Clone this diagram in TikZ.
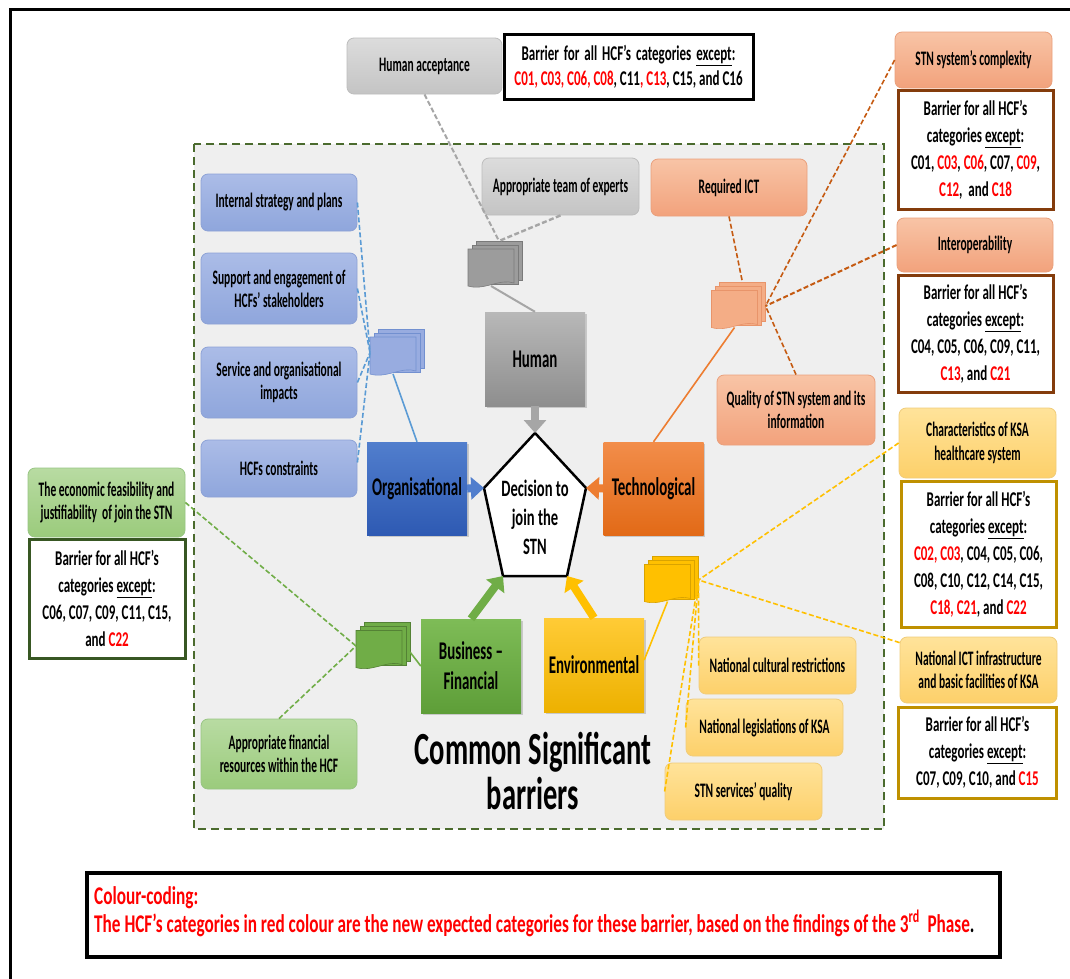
\documentclass[tikz,border=0pt]{standalone}
\usepackage{fontspec}
\setmainfont{Carlito}[FakeStretch=0.62]
\newfontfamily\fsmall{Carlito}[FakeStretch=0.557]
\newfontfamily\fcat{Carlito}[FakeStretch=0.584]
\newfontfamily\fcc{Carlito}[FakeStretch=0.675]
\usetikzlibrary{arrows.meta,calc,shadows}
\definecolor{graytop}{HTML}{DCDCDC}\definecolor{graybot}{HTML}{C4C4C4}\definecolor{grayedge}{HTML}{BDBDBD}
\definecolor{humtop}{HTML}{B8B8B8}\definecolor{humbot}{HTML}{8E8E8E}
\definecolor{bluetop}{HTML}{ABBCE7}\definecolor{bluebot}{HTML}{8FA6DC}\definecolor{blueedge}{HTML}{8DA2D6}
\definecolor{orgtop}{HTML}{517ECD}\definecolor{orgbot}{HTML}{2E5AB3}
\definecolor{ortop}{HTML}{F8C4A6}\definecolor{orbot}{HTML}{F2A27C}\definecolor{oredge}{HTML}{EAA07C}
\definecolor{techtop}{HTML}{F28D4A}\definecolor{techbot}{HTML}{E26A17}
\definecolor{yeltop}{HTML}{FFE39A}\definecolor{yelbot}{HTML}{FDD06A}\definecolor{yeledge}{HTML}{F0CC7A}
\definecolor{envtop}{HTML}{FFCB36}\definecolor{envbot}{HTML}{EDB100}
\definecolor{grtop}{HTML}{B8DBA2}\definecolor{grbot}{HTML}{9BCB7C}\definecolor{gredge}{HTML}{98C583}
\definecolor{bustop}{HTML}{7EBC57}\definecolor{busbot}{HTML}{5E9E38}
\definecolor{bgfill}{HTML}{EFEFEF}\definecolor{dashgreen}{HTML}{4B6B2E}
\definecolor{cgray}{HTML}{A6A6A6}\definecolor{cblue}{HTML}{5B9BD5}
\definecolor{corange}{HTML}{C55A11}\definecolor{corsolid}{HTML}{ED7D31}
\definecolor{cyellow}{HTML}{FFC000}\definecolor{cgreen}{HTML}{70AD47}
\definecolor{bbrown}{HTML}{843C0C}\definecolor{bgold}{HTML}{BF9000}\definecolor{bgreen}{HTML}{385723}
\definecolor{dgray}{HTML}{9C9C9C}\definecolor{dgrayd}{HTML}{7A7A7A}
\definecolor{dblue}{HTML}{98ACE0}\definecolor{dblued}{HTML}{7290D0}
\definecolor{dor}{HTML}{F4AD86}\definecolor{dord}{HTML}{E8946A}
\definecolor{dyel}{HTML}{FFC000}\definecolor{dyeld}{HTML}{D9A300}
\definecolor{dgr}{HTML}{70AD47}\definecolor{dgrd}{HTML}{548235}
\newcommand\redt[1]{\textcolor{red}{#1}}
\newcommand\fsz[2]{\fontsize{#1}{#2}\selectfont\bfseries}
\newcommand\mdoc[4]{%
  \node[minimum width=54pt, minimum height=47pt, inner sep=0pt, outer sep=0pt] (#1) at (#2) {};
  \path[fill=#3, draw=#4, line width=0.6pt] ($(#1.north west)+(8,0)$) rectangle ($(#1.north west)+(54,39)$);
  \path[fill=#3, draw=#4, line width=0.6pt] ($(#1.north west)+(4,4)$) rectangle ($(#1.north west)+(50,43)$);
  \path[fill=#3, draw=#4, line width=0.6pt] ($(#1.north west)+(0,8)$) -- ($(#1.north west)+(46,8)$) -- ($(#1.north west)+(46,42)$) .. controls ($(#1.north west)+(32,37)$) and ($(#1.north west)+(16,50)$) .. ($(#1.north west)+(0,45)$) -- cycle;
  \coordinate (#1-t) at ($(#1.north west)+(31,0)$);
  \coordinate (#1-b) at ($(#1.north west)+(23,45)$);
}
\tikzset{
  sbox/.style={rounded corners=7pt, align=center, inner sep=1pt, line width=0.8pt, font=\fsmall\fsz{20.6}{23.3}},
  graybox/.style={sbox, top color=graytop, bottom color=graybot, draw=grayedge},
  bluebox/.style={sbox, top color=bluetop, bottom color=bluebot, draw=blueedge},
  orbox/.style={sbox, top color=ortop, bottom color=orbot, draw=oredge},
  yelbox/.style={sbox, top color=yeltop, bottom color=yelbot, draw=yeledge},
  grbox/.style={sbox, top color=grtop, bottom color=grbot, draw=gredge},
  barbox/.style={draw, fill=white, line width=3pt, align=center, inner sep=0pt, font=\fsz{21}{27}},
  catbox/.style={align=center, inner sep=0pt, minimum width=100pt, minimum height=93pt, font=\fcat\fsz{25.5}{30},
    drop shadow={shadow xshift=1.5pt, shadow yshift=-1.5pt, opacity=0.35}},
  bigarrow/.style={line width=8pt, -{Triangle[length=13pt,width=22pt]}},
  conn/.style={line width=1.6pt, dash pattern=on 5pt off 2.5pt},
  solidconn/.style={line width=1.6pt},
}
\begin{document}
\begin{tikzpicture}[x=1pt,y=-1pt]
\useasboundingbox (0,0) rectangle (1070,978);
\fill[white] (0,0) rectangle (1070,978);
% outer frame
\draw[line width=3pt] (10,980) -- (10,9) -- (1072,9);
% dashed area
\draw[fill=bgfill, draw=dashgreen, line width=2.2pt, dash pattern=on 8pt off 5pt] (194,144) rectangle (884,829);

% ---- boxes: human ----
\node[graybox, minimum width=155pt, minimum height=56pt] (hacc) at (424.5,66) {Human acceptance};
\node[barbox, minimum width=249pt, minimum height=65pt, font=\fsz{21}{25}] (btop) at (628.5,66.5)
  {Barrier\hspace{2pt} for\hspace{2pt} all\hspace{2pt} HCF’s\hspace{2pt} categories\hspace{2pt} \underline{except}:\\\redt{C01, C03, C06, C08}, C11\redt{, C13}, C15, and C16};
\node[graybox, minimum width=157pt, minimum height=57pt] (team) at (560.5,186.5) {Appropriate team of experts};

% ---- technological ----
\node[orbox, minimum width=156pt, minimum height=57pt] (ict) at (729,187.5) {Required ICT};
\node[orbox, minimum width=157pt, minimum height=56pt] (cplx) at (973.5,60) {STN system’s complexity};
\node[barbox, draw=bbrown, minimum width=155pt, minimum height=119pt] (b2) at (975.5,149.5)
  {Barrier for all HCF’s\\categories \underline{except}:\\C01, \redt{C03}, \redt{C06}, C07, \redt{C09},\\\redt{C12},~ and \redt{C18}};
\node[orbox, minimum width=156pt, minimum height=54pt] (interop) at (975,245) {Interoperability};
\node[barbox, draw=bbrown, minimum width=155pt, minimum height=117pt] (b3) at (975.5,333.5)
  {Barrier for all HCF’s\\categories \underline{except}:\\C04, C05, C06, C09, C11,\\\redt{C13}, and \redt{C21}};
\node[orbox, minimum width=158pt, minimum height=70pt] (quality) at (796,410) {Quality of STN system and its\\information};

% ---- environmental ----
\node[yelbox, minimum width=157pt, minimum height=70pt] (chars) at (977.5,443) {Characteristics of KSA\\healthcare system};
\node[barbox, draw=bgold, minimum width=155pt, minimum height=146pt] (b4) at (978.5,554)
  {Barrier for all HCF’s\\categories \underline{except}:\\\redt{C02, C03}, C04, C05, C06,\\C08, C10, C12, C14, C15,\\\redt{C18, C21}, and \redt{C22}};
\node[yelbox, minimum width=157pt, minimum height=66pt] (natict) at (978.5,670) {National ICT infrastructure\\and basic facilities of KSA};
\node[barbox, draw=bgold, minimum width=158pt, minimum height=91pt] (b5) at (977.5,752.5)
  {Barrier for all HCF’s\\categories \underline{except}:\\C07, C09, C10, and \redt{C15}};
\node[yelbox, minimum width=157pt, minimum height=57pt] (cult) at (777.5,665.5) {National cultural restrictions};
\node[yelbox, minimum width=157pt, minimum height=57pt] (legis) at (764.5,727.5) {National legislations of KSA};
\node[yelbox, minimum width=157pt, minimum height=57pt] (servq) at (743.5,791.5) {STN services’ quality};

% ---- organisational ----
\node[bluebox, minimum width=156pt, minimum height=57pt] (ist) at (279,202.5) {Internal strategy and plans};
\node[bluebox, minimum width=156pt, minimum height=71pt] (sup) at (279,288.5) {Support and engagement of\\HCFs’ stakeholders};
\node[bluebox, minimum width=156pt, minimum height=71pt] (sorg) at (279,382.5) {Service and organisational\\impacts};
\node[bluebox, minimum width=156pt, minimum height=57pt] (cons) at (279,468.5) {HCFs constraints};

% ---- business ----
\node[grbox, minimum width=157pt, minimum height=69pt] (econ) at (106.5,502.5) {The economic feasibility and\\justifiability~ of join the STN};
\node[barbox, draw=bgreen, minimum width=156pt, minimum height=119pt] (b6) at (107,598.5)
  {Barrier for all HCF’s\\categories \underline{except}:\\C06, C07, C09, C11, C15,\\and \redt{C22}};
\node[grbox, minimum width=156pt, minimum height=70pt] (fin) at (279,754) {Appropriate financial\\resources within the HCF};

% ---- category boxes ----
\node[catbox, top color=orgtop, bottom color=orgbot] (org) at (417,488.5) {Organisational};
\node[catbox, top color=humtop, bottom color=humbot, minimum height=94pt] (hum) at (535,359) {Human};
\node[catbox, top color=techtop, bottom color=techbot] (tech) at (653.5,488.5) {Technological};
\node[catbox, top color=bustop, bottom color=busbot, minimum height=94pt] (bus) at (471,666) {Business –\\Financial};
\node[catbox, top color=envtop, bottom color=envbot, minimum height=94pt] (env) at (594,665) {Environmental};

% ---- decision pentagon ----
\coordinate (pT) at (535,433);
\coordinate (pR) at (586,488);
\coordinate (pBR) at (567,576);
\coordinate (pBL) at (503,576);
\coordinate (pL) at (484,488);
\draw[fill=white, line width=2.5pt, line join=miter] (pT) -- (pR) -- (pBR) -- (pBL) -- (pL) -- cycle;
\node[align=center, inner sep=0pt, font=\fsz{23.5}{29}] (dec) at (535,517) {Decision to\\join the\\STN};

% ---- doc icons ----
\mdoc{gdoc}{495,264.5}{dgray}{dgrayd}
\mdoc{bdoc}{397,352.5}{dblue}{dblued}
\mdoc{odoc}{738.5,306}{dor}{dord}
\mdoc{ydoc}{671.5,580}{dyel}{dyeld}
\mdoc{grdoc}{383,646}{dgr}{dgrd}

% ---- connectors ----
\draw[conn, cgray, line width=2pt] (hacc.south) -- (gdoc-t);
\draw[conn, cgray, line width=2.4pt] (team.south) -- (gdoc-t);
\draw[solidconn, cgray, line width=2pt] (gdoc-b) -- (hum.north);

\draw[conn, cblue] (ist.east) -- (bdoc.west);
\draw[conn, cblue] (sup.east) -- (bdoc.west);
\draw[conn, cblue] (sorg.east) -- (bdoc.west);
\draw[conn, cblue] ($(cons.east)+(0,-6)$) -- (bdoc.west);
\draw[solidconn, cblue] (bdoc-b) -- (org.north);

\draw[conn, corange] (ict.south) -- (odoc-t);
\draw[conn, corange] (cplx.west) -- (odoc.east);
\draw[conn, corange, line width=2pt] (interop.west) -- (odoc.east);
\draw[conn, corange] (quality.north) -- (odoc.east);
\draw[solidconn, corsolid] (odoc-b) -- (tech.north);

\draw[conn, cyellow] (chars.west) -- (ydoc.east);
\draw[conn, cyellow] ($(natict.north west)+(0,6)$) -- (ydoc.east);
\draw[conn, cyellow] (cult.west) -- (ydoc.east);
\draw[conn, cyellow] (legis.west) -- (ydoc.east);
\draw[conn, cyellow] (servq.west) -- (ydoc.east);
\draw[solidconn, cyellow] (ydoc-b) -- ($(env.east)+(0,-5)$);

\draw[conn, cgreen] (econ.east) -- (grdoc.west);
\draw[conn, cgreen] (fin.north) -- (grdoc.west);
\draw[solidconn, cgreen] ($(grdoc.east)+(0,6)$) -- (bus.west);

% ---- arrows into decision ----
\draw[bigarrow, cgray] (hum.south) -- (pT);
\draw[bigarrow, orgtop] (org.east) -- (pL);
\draw[bigarrow, corsolid] (tech.west) -- (pR);
\draw[bigarrow, cgreen] (bus.north) -- (pBL);
\draw[bigarrow, cyellow] (env.north) -- (pBR);

% ---- title ----
\node[anchor=base, inner sep=0pt, font=\fsz{46}{46}] (title1) at (533,764) {Common Significant};
\node[anchor=base, inner sep=0pt, font=\fsz{46}{46}] (title2) at (533,809) {barriers};

% ---- colour coding ----
\node[draw, line width=4pt, minimum width=913pt, minimum height=84pt, inner sep=0pt] (ccbox) at (543.5,915) {};
\node[anchor=base west, inner sep=0pt, text=red, font=\fcc\fsz{25.5}{30}] (cc1) at (94,904) {Colour-coding:};
\node[anchor=base west, inner sep=0pt, text=red, font=\fcc\fsz{25.5}{30}] (cc2) at (94,932)
  {The HCF’s categories in red colour are the new expected categories for these barrier, based on the findings of the 3\textsuperscript{rd}~ Phase\textcolor{black}{.}};
\end{tikzpicture}
\end{document}
